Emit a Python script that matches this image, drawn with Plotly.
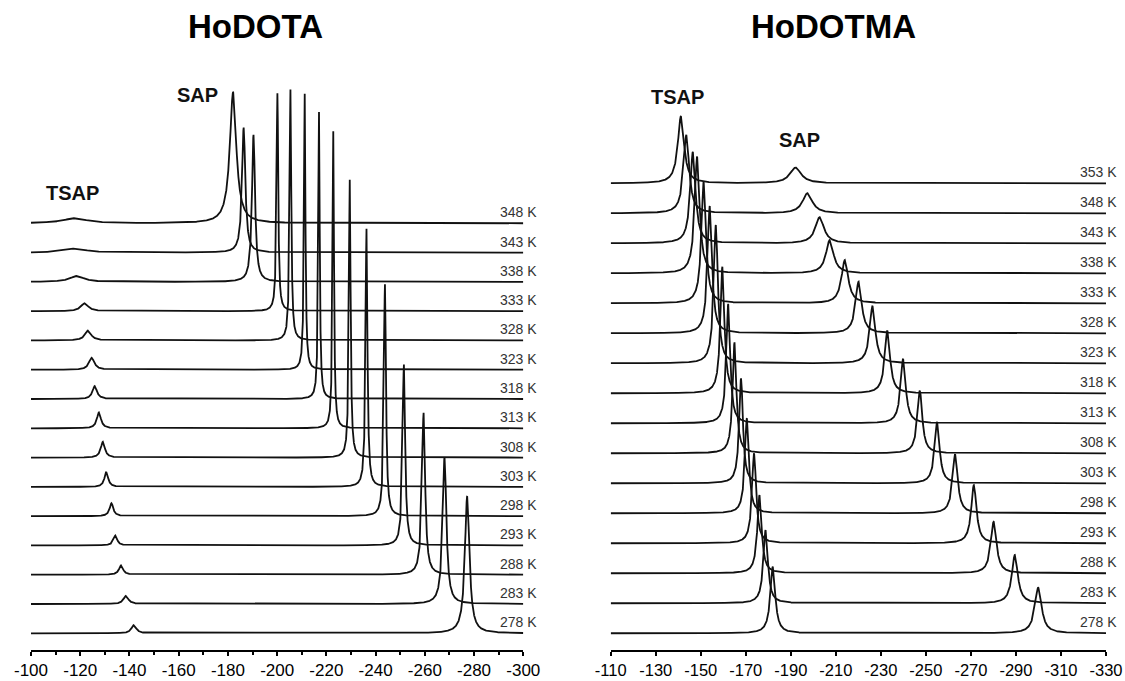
import numpy as np
import plotly.graph_objects as go

# ---------------- HoDOTA (left panel) ----------------
dota_temps = [278, 283, 288, 293, 298, 303, 308, 313, 318, 323, 328, 333, 338, 343, 348]
dota_sap_ppm = [-277.2, -268.0, -259.5, -251.5, -243.8, -236.3, -229.5, -222.8, -217.0,
                -211.2, -205.4, -200.1, -190.4, -186.4, -182.1]
dota_sap_height = [46.8, 50.2, 55.3, 61.8, 79.2, 88.1, 94.9, 101.4, 98.0, 94.2, 85.7, 74.4,
                   50.2, 42.7, 44.7]
dota_sap_hwhm = [1.1, 0.9, 0.75, 0.6, 0.5, 0.45, 0.4, 0.35, 0.35, 0.35, 0.4, 0.4, 0.75, 0.8, 1.6]
dota_tsap_ppm = [-141.8, -138.6, -136.6, -134.3, -132.7, -130.6, -129.2, -127.6, -125.9,
                 -124.7, -123.2, -121.8, -118.6, -118.0, -117.9]
dota_tsap_height = [2.8, 2.8, 3.2, 3.4, 4.4, 5.1, 5.4, 5.4, 4.4, 4.1, 3.4, 2.7, 2.0, 1.4, 1.7]
dota_tsap_hwhm = [1.2, 1.2, 1.0, 0.9, 0.9, 0.9, 1.0, 1.0, 1.1, 1.3, 1.5, 1.8, 3.5, 5.0, 6.0]
dota_ticks = [-100, -120, -140, -160, -180, -200, -220, -240, -260, -280, -300]

# ---------------- HoDOTMA (right panel) ----------------
dotma_temps = [278, 283, 288, 293, 298, 303, 308, 313, 318, 323, 328, 333, 338, 343, 348, 353]
dotma_tsap_ppm = [-182.0, -178.8, -176.1, -173.7, -170.5, -167.9, -165.0, -162.2, -159.6,
                  -156.7, -154.0, -151.3, -148.4, -146.5, -143.6, -141.2]
dotma_tsap_height = [22.2, 24.4, 26.1, 30.0, 31.7, 35.0, 37.0, 39.8, 42.2, 46.1, 42.4, 40.5,
                     38.9, 30.5, 26.1, 22.4]
dotma_tsap_hwhm = [1.3, 1.2, 1.15, 1.1, 1.05, 1.0, 1.0, 1.0, 1.05, 1.1, 1.15, 1.2, 1.3, 1.4,
                   1.5, 1.65]
dotma_sap_ppm = [-299.9, -289.5, -280.1, -271.3, -263.0, -255.0, -247.3, -239.9, -232.9,
                 -226.3, -220.1, -214.0, -207.3, -202.8, -197.4, -192.1]
dotma_sap_height = [15.2, 16.1, 17.2, 19.4, 19.7, 20.5, 20.9, 21.5, 20.9, 19.1, 17.2, 14.4,
                    11.1, 8.7, 6.7, 5.2]
dotma_sap_hwhm = [1.8, 1.6, 1.5, 1.4, 1.35, 1.3, 1.3, 1.35, 1.4, 1.5, 1.6, 1.8, 2.0, 2.3, 2.6, 3.0]
dotma_ticks = [-110, -130, -150, -170, -190, -210, -230, -250, -270, -290, -310, -330]

STEP = 10.0  # vertical offset between stacked spectra (intensity units)
FONT = "Liberation Sans, Arial, sans-serif"
W, H = 1125, 681


def lorentz(x, c, h, g):
    return h * g * g / ((x - c) ** 2 + g * g)


def make_grid(lo, hi, centers):
    pts = [np.linspace(lo, hi, 4001)]
    for c in centers:
        pts.append(c + np.linspace(-4, 4, 401))
    x = np.unique(np.concatenate(pts))
    return x[(x >= lo) & (x <= hi)]


fig = go.Figure()


def add_panel(temps, p1, h1, g1, p2, h2, g2, lo, hi, xa, ya):
    for i, _t in enumerate(temps):
        x = make_grid(lo, hi, [p1[i], p2[i]])
        y = i * STEP + lorentz(x, p1[i], h1[i], g1[i]) + lorentz(x, p2[i], h2[i], g2[i])
        fig.add_trace(go.Scatter(x=x, y=y, mode="lines", xaxis=xa, yaxis=ya,
                                 line=dict(color="#111111", width=1.8),
                                 hoverinfo="skip", showlegend=False))


add_panel(dota_temps, dota_sap_ppm, dota_sap_height, dota_sap_hwhm,
          dota_tsap_ppm, dota_tsap_height, dota_tsap_hwhm, -300, -100, "x", "y")
add_panel(dotma_temps, dotma_tsap_ppm, dotma_tsap_height, dotma_tsap_hwhm,
          dotma_sap_ppm, dotma_sap_height, dotma_sap_hwhm, -330, -110, "x2", "y2")

# pixel geometry
axis_y_px = 650
ydom0 = (H - axis_y_px) / H
l_px_per_unit = 410.0 / 14 / STEP
r_px_per_unit = 450.0 / 15 / STEP
l_base_px = 633.3
r_base_px = 633.3
l_bottom = -(axis_y_px - l_base_px) / l_px_per_unit
r_bottom = -(axis_y_px - r_base_px) / r_px_per_unit

axis_common = dict(showgrid=False, zeroline=False, showline=True, linecolor="#000",
                   linewidth=2, ticks="outside", ticklen=4, tickwidth=2, tickcolor="#000",
                   automargin=False, ticklabelstandoff=0)

fig.update_layout(
    width=W, height=H, margin=dict(l=0, r=0, t=0, b=0),
    plot_bgcolor="white", paper_bgcolor="white",
    xaxis=dict(domain=[31 / W, 523.3 / W], range=[-100, -300], tickvals=dota_ticks,
               ticktext=[str(v) for v in dota_ticks],
               tickfont=dict(family=FONT, size=17, color="#000"),
               minor=dict(dtick=10, tick0=-100, ticks="outside", ticklen=3, tickwidth=2,
                          tickcolor="#000"),
               anchor="y", **axis_common),
    xaxis2=dict(domain=[610.7 / W, 1106 / W], range=[-110, -330], tickvals=dotma_ticks,
                ticktext=[str(v) for v in dotma_ticks],
                tickfont=dict(family=FONT, size=16.5, color="#000"),
                anchor="y2", **axis_common),
    yaxis=dict(domain=[ydom0, 1], range=[l_bottom, l_bottom + axis_y_px / l_px_per_unit],
               visible=False, anchor="x"),
    yaxis2=dict(domain=[ydom0, 1], range=[r_bottom, r_bottom + axis_y_px / r_px_per_unit],
                visible=False, anchor="x2"),
)

ann = []
# temperature labels
for i, t in enumerate(dota_temps):
    ann.append(dict(text=f"{t} K", xref="paper", x=539 / W, xanchor="right",
                    yref="y", y=i * STEP, yshift=11, yanchor="middle", showarrow=False,
                    font=dict(family=FONT, size=14, color="#333")))
for i, t in enumerate(dotma_temps):
    ann.append(dict(text=f"{t} K", xref="paper", x=1119 / W, xanchor="right",
                    yref="y2", y=i * STEP, yshift=11, yanchor="middle", showarrow=False,
                    font=dict(family=FONT, size=14, color="#333")))

# titles
ann.append(dict(text="<b>HoDOTA</b>", xref="paper", yref="paper", x=255 / W, y=1 - 27 / H,
                xanchor="center", yanchor="middle", showarrow=False,
                font=dict(family=FONT, size=33, color="#000")))
ann.append(dict(text="<b>HoDOTMA</b>", xref="paper", yref="paper", x=833 / W, y=1 - 27 / H,
                xanchor="center", yanchor="middle", showarrow=False,
                font=dict(family=FONT, size=33, color="#000")))
# conformer labels
for txt, xp, yp in [("SAP", 197.5, 95), ("TSAP", 72, 193), ("TSAP", 677, 96.5), ("SAP", 799.5, 140)]:
    ann.append(dict(text=f"<b>{txt}</b>", xref="paper", yref="paper", x=xp / W, y=1 - yp / H,
                    xanchor="center", yanchor="middle", showarrow=False,
                    font=dict(family=FONT, size=20, color="#111")))

fig.update_layout(annotations=ann)
fig.write_html("out.html", config={"displayModeBar": False},
               post_script="document.body.style.margin='0';document.body.style.overflow='hidden';")
